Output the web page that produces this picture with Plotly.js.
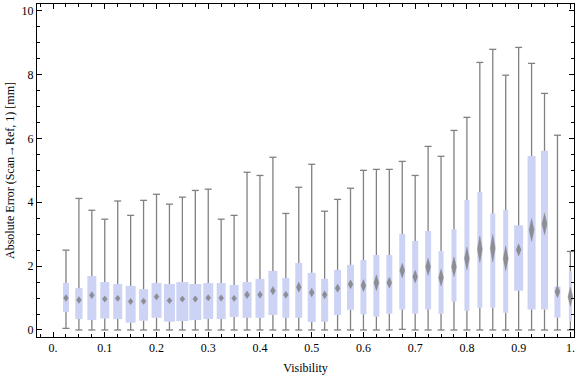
<!DOCTYPE html>
<html><head><meta charset="utf-8">
<script src="https://cdn.plot.ly/plotly-3.0.1.min.js"></script>
<style>html,body{margin:0;padding:0;background:#fff}</style>
</head><body><div id="chart" style="width:576px;height:377px"></div>
<script>
const visibility = [0.025,0.05,0.075,0.1,0.125,0.15,0.175,0.2,0.225,0.25,0.275,0.3,0.325,0.35,0.375,0.4,0.425,0.45,0.475,0.5,0.525,0.55,0.575,0.6,0.625,0.65,0.675,0.7,0.725,0.75,0.775,0.8,0.825,0.85,0.875,0.9,0.925,0.95,0.975,1.0];
const whiskerLow = [0.05,0,0,0,0,0,0,0,0,0,0,0,0,0,0,0,0,0,0,0,0,0,0,0,0,0,0.02,0,0,0,0,0,0,0,0,0,0,0,0,0];
const q1 = [0.56,0.34,0.31,0.36,0.34,0.23,0.29,0.38,0.26,0.28,0.31,0.34,0.34,0.41,0.38,0.38,0.47,0.38,0.38,0.25,0.26,0.47,0.63,0.49,0.42,0.51,0.64,0.51,0.64,0.51,0.89,0.60,0.70,0.70,0.54,1.23,0.64,0.64,0.39,0.27];
const median = [1.00,0.94,1.09,0.97,0.99,0.89,0.90,1.04,0.92,0.97,0.97,1.01,1.00,0.99,1.10,1.10,1.23,1.10,1.34,1.17,1.10,1.31,1.43,1.39,1.48,1.48,1.86,1.67,1.98,1.64,1.98,2.24,2.53,2.56,2.24,2.51,3.13,3.32,1.20,1.04];
const q3 = [1.47,1.31,1.69,1.50,1.44,1.38,1.28,1.47,1.44,1.50,1.44,1.47,1.47,1.41,1.50,1.60,1.85,1.63,2.10,1.79,1.60,1.88,2.04,2.19,2.35,2.35,3.01,2.79,3.10,2.47,3.16,4.07,4.32,3.65,3.76,3.28,5.45,5.61,1.36,1.84];
const whiskerHigh = [2.50,4.12,3.75,3.47,4.04,3.59,4.06,4.25,3.94,4.16,4.37,4.41,3.47,3.59,4.94,4.84,5.41,3.65,4.47,5.19,3.72,4.09,4.44,5.00,5.03,5.03,5.28,4.84,5.75,5.44,6.25,6.66,8.38,8.79,7.98,8.85,8.35,7.41,6.10,2.46];
const medianSpread = [0.11,0.11,0.11,0.10,0.10,0.10,0.10,0.10,0.10,0.10,0.10,0.10,0.10,0.10,0.12,0.11,0.13,0.11,0.16,0.14,0.13,0.13,0.14,0.19,0.25,0.17,0.23,0.20,0.27,0.27,0.31,0.36,0.42,0.44,0.39,0.19,0.36,0.34,0.19,0.30];
const relWidth = [6,7.3,9,9,9,10,9,10,11,12,12,10,9,9,9,9,9,7,7,8,7,7,7,6,6,6,6,6,6,5,5,5,5,5,5,9,8,7,6,3];
const xTickVals = [0,0.1,0.2,0.3,0.4,0.5,0.6,0.7,0.8,0.9,1.0];
const xTickText = ['0.','0.1','0.2','0.3','0.4','0.5','0.6','0.7','0.8','0.9','1.'];
const yTickVals = [0,2,4,6,8,10];

const XR = [-0.031, 1.007], YR = [-0.22, 10.21];
const pxPerX = 537 / (XR[1] - XR[0]);
const widthScale = 1 / pxPerX;
const diamondHalfW = 2.5 / pxPerX;

const wx = [], wy = [];
visibility.forEach((x, i) => {
  wx.push(x, x, null, x, x, null);
  wy.push(whiskerLow[i], q1[i], null, q3[i], whiskerHigh[i], null);
});
const dx = [], dy = [];
visibility.forEach((x, i) => {
  const m = median[i], h = medianSpread[i];
  dx.push(x, x + diamondHalfW, x, x - diamondHalfW, x, null);
  dy.push(m - h, m, m + h, m, m - h, null);
});
const gray = '#808080';
const traces = [
  {type:'bar', x: visibility, base: q1, y: q3.map((v,i)=>v-q1[i]),
   width: relWidth.map(w=>w*widthScale), marker:{color:'#cdd3f5', line:{width:0}}, hoverinfo:'skip'},
  {type:'scatter', mode:'lines', x: wx, y: wy, line:{color:gray, width:1.3}, hoverinfo:'skip'},
  {type:'scatter', mode:'markers', x: visibility.concat(visibility), y: whiskerLow.concat(whiskerHigh),
   marker:{symbol:'line-ew', size:5, line:{color:gray, width:1.3}}, hoverinfo:'skip'},
  {type:'scatter', mode:'lines', x: dx, y: dy, fill:'toself', fillcolor:'rgba(125,125,125,0.8)',
   line:{width:0.8, color:'rgba(125,125,125,0.35)'}, hoverinfo:'skip'}
];
const font = {family:'Liberation Serif, Times New Roman, serif', size:12, color:'#000'};
const layout = {
  width:576, height:377, margin:{l:37, r:2, t:4, b:40},
  paper_bgcolor:'#fff', plot_bgcolor:'#fff', showlegend:false, font: font, barmode:'overlay',
  xaxis:{range:XR, tickvals:xTickVals, ticktext:xTickText, ticks:'inside', ticklen:5, tickwidth:1, tickcolor:'#000',
    showline:true, linecolor:'#000', linewidth:1, mirror:'allticks', showgrid:false, zeroline:false,
    minor:{dtick:0.025, tick0:0, ticks:'inside', ticklen:3, tickcolor:'#000', showgrid:false},
    title:{text:'Visibility', font:font, standoff:9}, tickfont:font},
  yaxis:{range:YR, tickvals:yTickVals, ticks:'inside', ticklen:5, tickwidth:1, tickcolor:'#000',
    showline:true, linecolor:'#000', linewidth:1, mirror:'allticks', showgrid:false, zeroline:false,
    minor:{dtick:0.5, tick0:0, ticks:'inside', ticklen:3, tickcolor:'#000', showgrid:false},
    title:{text:'Absolute Error (Scan→Ref, 1) [mm]', font:font, standoff:4}, tickfont:font}
};
Plotly.newPlot('chart', traces, layout, {staticPlot:true});
</script></body></html>
